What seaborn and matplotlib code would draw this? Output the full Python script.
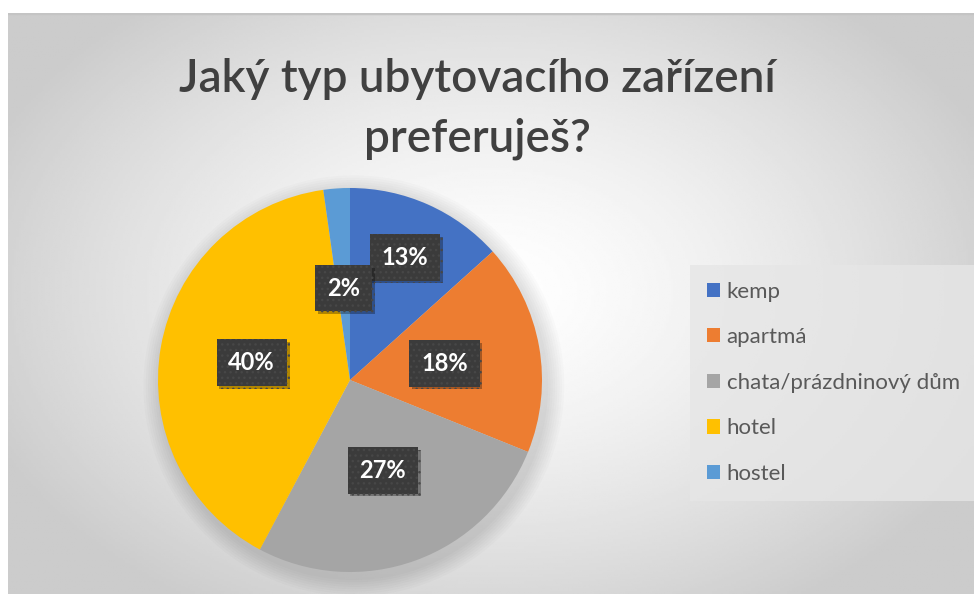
import numpy as np
import seaborn as sns
import matplotlib.pyplot as plt
import matplotlib.patheffects as pe
from matplotlib.patches import Circle

# Survey answers (counts)
categories = ["kemp", "apartmá", "chata/prázdninový dům", "hotel", "hostel"]
counts = [6, 8, 12, 18, 1]
title = "Jaký typ ubytovacího zařízení\npreferuješ?"

colors = ["#4472C4", "#ED7D31", "#A5A5A5", "#FFC000", "#5B9BD5"]
# how far out each percentage label sits (fraction of radius)
label_dist = [0.70, 0.50, 0.50, 0.52, 0.48]

sns.set_theme(style="white")
plt.rcParams["font.family"] = ["Lato", "DejaVu Sans"]

W, H = 974, 594
fig = plt.figure(figsize=(W / 100, H / 100), dpi=100)
fig.patch.set_facecolor("white")

# chart area with radial grey gradient
x0, y_top = 8, 13
bg = fig.add_axes([x0 / W, 0, 1 - x0 / W, 1 - y_top / H])
gx, gy = np.meshgrid(np.linspace(0, 1, 400), np.linspace(0, 1, 250))
d = np.sqrt(((gx - 0.50) / 0.75) ** 2 + ((gy - 0.48) / 0.85) ** 2)
grad = 1 - 0.20 * np.clip(d / 0.75, 0, 1) ** 1.4
bg.imshow(grad, cmap="gray", vmin=0, vmax=1, aspect="auto",
          extent=[0, 1, 0, 1], origin="upper")
bg.axhline(1, color="#c4c4c4", lw=2.5)
bg.set_xlim(0, 1)
bg.set_ylim(0, 1)
bg.axis("off")

# title
fig.text(477 / W, 1 - 109 / H, title, ha="center", va="center",
         fontsize=33, color="#404040", fontweight="semibold", linespacing=1.5)

# pie
cx, cy, r = 350, 380, 192
m = 1.15
ax = fig.add_axes([(cx - m * r) / W, (H - cy - m * r) / H, 2 * m * r / W, 2 * m * r / H])
for k in range(8):
    ax.add_patch(Circle((0.02, -0.03), 1.0 + 0.012 * (k + 1), color="black",
                        alpha=0.016, lw=0, zorder=0))
wedges, _ = ax.pie(counts, colors=colors, startangle=90, counterclock=False,
                   radius=1, wedgeprops=dict(linewidth=0))
for w in wedges:
    w.set_zorder(2)

total = sum(counts)
for w, c, dist in zip(wedges, counts, label_dist):
    ang = np.deg2rad((w.theta1 + w.theta2) / 2)
    t = ax.text(dist * np.cos(ang), dist * np.sin(ang), f"{round(100 * c / total)}%",
                ha="center", va="center", color="white", fontsize=17,
                fontweight="bold", zorder=5,
                bbox=dict(boxstyle="square,pad=0.5", fc="#3b3b3b", ec="#474747",
                          lw=0, hatch="..."))
    t.get_bbox_patch().set_path_effects(
        [pe.SimplePatchShadow(offset=(2, -2), shadow_rgbFace="black", alpha=0.3), pe.Normal()])
ax.set_xlim(-m, m)
ax.set_ylim(-m, m)
ax.set_aspect("equal")
ax.axis("off")

# legend
leg = fig.legend(wedges, categories, loc="upper left",
                 bbox_to_anchor=(690 / W, 1 - 265 / H), frameon=True,
                 fontsize=16, labelcolor="#595959", handlelength=0.6,
                 handleheight=0.6, handletextpad=0.3, labelspacing=1.15,
                 borderpad=0.75, borderaxespad=0)
leg.get_frame().set_facecolor("#e6e6e6")
leg.get_frame().set_edgecolor("none")
leg.get_frame().set_alpha(0.8)
leg.get_frame().set_boxstyle("square", pad=0)

fig.savefig("out.png", dpi=100)
